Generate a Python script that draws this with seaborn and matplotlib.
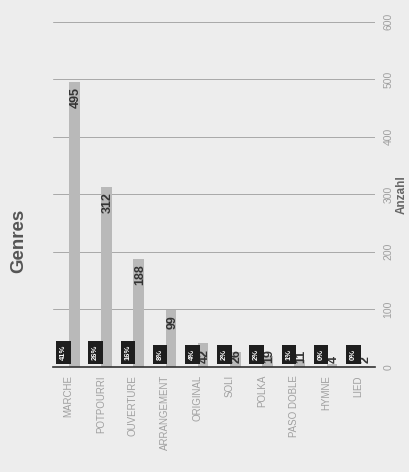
import numpy as np
import pandas as pd
import seaborn as sns
import matplotlib.pyplot as plt

# dados
genres = ["MARCHE", "POTPOURRI", "OUVERTURE", "ARRANGEMENT", "ORIGINAL",
          "SOLI", "POLKA", "PASO DOBLE", "HYMNE", "LIED"]
counts = [495, 312, 188, 99, 42, 26, 19, 11, 4, 2]
percents = ["41%", "26%", "16%", "8%", "4%", "2%", "2%", "1%", "0%", "0%"]
yticks = [0, 100, 200, 300, 400, 500, 600]

sns.set_theme(style="white")
plt.rcParams['font.family'] = ['Liberation Sans', 'DejaVu Sans']

df = pd.DataFrame({"pos": np.arange(len(genres)) + 0.18, "Anzahl": counts})

fig = plt.figure(figsize=(4.09, 4.72), dpi=100, facecolor="#ededed")
ax = fig.add_axes([0.13, 0.223, 0.787, 0.731])
ax.set_facecolor("#ededed")

sns.barplot(data=df, x="pos", y="Anzahl", native_scale=True, width=0.33,
            color="#b9b9b9", saturation=1, linewidth=0, ax=ax)

# rótulos dos valores
for i, v in enumerate(counts):
    if v >= 60:
        ax.text(i + 0.18, v - 9, str(v), rotation=90, rotation_mode="anchor",
                ha="right", va="center_baseline", fontsize=9, fontweight="bold", color="#333333")
    else:
        ax.text(i + 0.18, 7, str(v), rotation=90, rotation_mode="anchor",
                ha="left", va="center_baseline", fontsize=9, fontweight="bold", color="#333333")

# percentagens em caixas pretas
for i, p in enumerate(percents):
    ax.text(i - 0.19, 12, p, rotation=90, rotation_mode="anchor", ha="left", va="center_baseline",
            fontsize=5.5, fontweight="bold", color="white",
            bbox=dict(boxstyle="square,pad=0.5", facecolor="#1e1e1e", edgecolor="none"))

ax.set_xlim(-0.48, 9.52)
ax.set_ylim(0, 600)
ax.set_xticks(np.arange(len(genres)))
ax.set_xticklabels(genres, rotation=90, fontsize=7, color="#a0a0a0")
ax.tick_params(axis="x", length=0, pad=6)
ax.set_xlabel("")

ax.yaxis.tick_right()
ax.yaxis.set_label_position("right")
ax.set_yticks(yticks)
ax.set_yticklabels([str(t) for t in yticks], rotation=90, va="center", fontsize=7.5, color="#a0a0a0")
ax.tick_params(axis="y", length=0, pad=6)
ax.set_ylabel("Anzahl", rotation=90, fontsize=8.5, fontweight="bold", color="#666666", labelpad=2)

ax.grid(axis="y", color="#a8a8a8", linewidth=0.7)
ax.set_axisbelow(True)
for s in ["top", "left", "right"]:
    ax.spines[s].set_visible(False)
ax.spines["bottom"].set_color("#333333")
ax.spines["bottom"].set_linewidth(1.2)

fig.text(0.045, 0.49, "Genres", rotation=90, ha="center", va="center",
         fontsize=13.5, fontweight="bold", color="#555555")

fig.savefig("out.png", dpi=100, facecolor=fig.get_facecolor())
